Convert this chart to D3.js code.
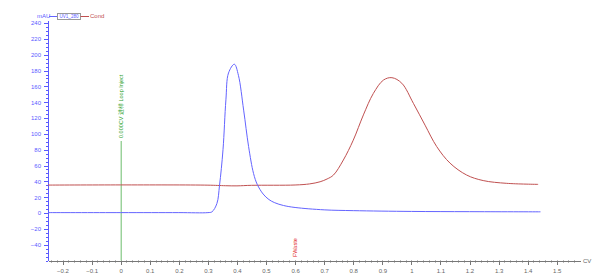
<!DOCTYPE html>
<html lang="en">
	<head>
		<meta charset="utf-8">
		<title>UV1_280 / Cond</title>
		<script src="https://cdnjs.cloudflare.com/ajax/libs/d3/7.8.5/d3.min.js" charset="utf-8"></script>
		<style type="text/css">
			body { margin:0; background:#fff; }
			svg text { font-family: "Liberation Sans", Arial, sans-serif; }
			.yaxis path, .yaxis line { stroke:#5a5aff; shape-rendering:crispEdges; }
			.yaxis text { fill:#5a5aff; font-size:6px; }
			.xaxis path, .xaxis line { stroke:#777; shape-rendering:crispEdges; }
			.xaxis text { fill:#666; font-size:6px; }
		</style>
	</head>
	<body>
		<div id="maincontainer"></div>
		<script type="text/javascript">
			// UV 280 trace (CV, mAU)
			var uvCV  = [-0.25, 0.0, 0.2, 0.30, 0.314, 0.331, 0.34, 0.352, 0.362, 0.371, 0.391, 0.405, 0.423, 0.44, 0.457, 0.47, 0.49, 0.51, 0.53, 0.56, 0.6, 0.7, 0.8, 1.0, 1.2, 1.444];
			var uvMAU = [0.5, 0.5, 0.5, 0.5, 1.5, 12, 35, 80, 143, 177, 188, 174, 130, 84, 50, 36, 24, 17, 13, 9.5, 7, 4, 3, 2, 1.7, 1.5];
			// conductivity trace (CV, scaled to mAU axis)
			var condCV  = [-0.25, 0.0, 0.3, 0.36, 0.4, 0.45, 0.6, 0.65, 0.686, 0.71, 0.732, 0.766, 0.80, 0.835, 0.869, 0.904, 0.933, 0.967, 1.007, 1.047, 1.087, 1.133, 1.19, 1.247, 1.328, 1.436];
			var condVal = [35.3, 35.5, 35.2, 34.5, 34.3, 35.0, 35.4, 36.8, 39.5, 43, 48, 67, 92, 124, 151, 168, 171, 164, 138.5, 111, 84, 63, 48, 41, 37.5, 36.2];
			var xTicks = [-0.2, -0.1, 0, 0.1, 0.2, 0.3, 0.4, 0.5, 0.6, 0.7, 0.8, 0.9, 1, 1.1, 1.2, 1.3, 1.4, 1.5];
			var yTicks = [-40, -20, 0, 20, 40, 60, 80, 100, 120, 140, 160, 180, 200, 220, 240];
			var events = [[0, "0.000CV 进样 Loop Inject", "#2ca02c", "top"], [0.6, "FWaste", "#e02020", "bottom"]];

			var W = 600, H = 279;
			var svg = d3.select("#maincontainer").append("svg")
				.attr("width", W).attr("height", H);

			var x = d3.scaleLinear().domain([-0.25, 1.58]).range([48, 580]);
			var y = d3.scaleLinear().domain([-60, 243]).range([260.5, 20.7]);

			// minor ticks
			var xMinor = d3.range(-0.24, 1.58, 0.02);
			var yMinor = d3.range(-60, 243, 5);
			svg.append("g").selectAll("line").data(xMinor).enter().append("line")
				.attr("x1", function(d){ return Math.round(x(d))+0.5; })
				.attr("x2", function(d){ return Math.round(x(d))+0.5; })
				.attr("y1", y(-60)).attr("y2", y(-60)+2)
				.attr("stroke", "#777");
			svg.append("g").selectAll("line").data(yMinor).enter().append("line")
				.attr("y1", function(d){ return Math.round(y(d))+0.5; })
				.attr("y2", function(d){ return Math.round(y(d))+0.5; })
				.attr("x1", x(-0.25)-2).attr("x2", x(-0.25))
				.attr("stroke", "#5a5aff");

			svg.append("g").attr("class", "xaxis")
				.attr("transform", "translate(0," + y(-60) + ")")
				.call(d3.axisBottom(x).tickValues(xTicks).tickSize(4).tickSizeOuter(0)
					.tickFormat(function(d){ return d3.format("")(+d.toFixed(1)); }));
			svg.append("g").attr("class", "yaxis")
				.attr("transform", "translate(" + x(-0.25) + ",0)")
				.call(d3.axisLeft(y).tickValues(yTicks).tickSize(4).tickSizeOuter(0));
			svg.selectAll(".xaxis text").attr("dy", "0.9em");

			svg.append("text").attr("x", 583).attr("y", y(-60)+2)
				.attr("font-size", "6px").attr("fill", "#666").text("CV");

			// event markers
			var ev = svg.append("g");
			ev.append("line")
				.attr("x1", x(0)+0.5).attr("x2", x(0)+0.5)
				.attr("y1", 141).attr("y2", y(-60))
				.attr("stroke", "#2ca02c").attr("stroke-opacity", 0.7);
			ev.selectAll("text").data(events).enter().append("text")
				.attr("transform", function(d){
					var yy = d[3] == "top" ? 138 : 257;
					return "translate(" + (x(d[0])+2) + "," + yy + ") rotate(-90)";
				})
				.attr("font-size", "5.5px")
				.attr("fill", function(d){ return d[2]; })
				.text(function(d){ return d[1]; });

			var line = d3.line().curve(d3.curveCatmullRom.alpha(0.5));
			svg.append("path")
				.datum(condCV.map(function(c, i){ return [x(c), y(condVal[i])]; }))
				.attr("d", line).attr("fill", "none")
				.attr("stroke", "#c05050").attr("stroke-width", 1);
			svg.append("path")
				.datum(uvCV.map(function(c, i){ return [x(c), y(uvMAU[i])]; }))
				.attr("d", line).attr("fill", "none")
				.attr("stroke", "#6464ff").attr("stroke-width", 1);

			// legend
			var lg = svg.append("g");
			lg.append("text").attr("x", 37).attr("y", 18).attr("font-size", "6px")
				.attr("fill", "#5a5aff").text("mAU");
			lg.append("line").attr("x1", 49).attr("x2", 57.5).attr("y1", 16.5).attr("y2", 16.5)
				.attr("stroke", "#6464ff");
			lg.append("rect").attr("x", 57.5).attr("y", 13.5).attr("width", 23).attr("height", 6)
				.attr("fill", "#fff").attr("stroke", "#999");
			lg.append("text").attr("x", 59.5).attr("y", 18.3).attr("font-size", "5.5px")
				.attr("textLength", 19).attr("lengthAdjust", "spacingAndGlyphs")
				.attr("fill", "#5a5aff").text("UV1_280");
			lg.append("line").attr("x1", 80.5).attr("x2", 89).attr("y1", 16.5).attr("y2", 16.5)
				.attr("stroke", "#c05050");
			lg.append("text").attr("x", 90).attr("y", 18.3).attr("font-size", "6px")
				.attr("fill", "#c05050").text("Cond");
		</script>
	</body>
</html>
